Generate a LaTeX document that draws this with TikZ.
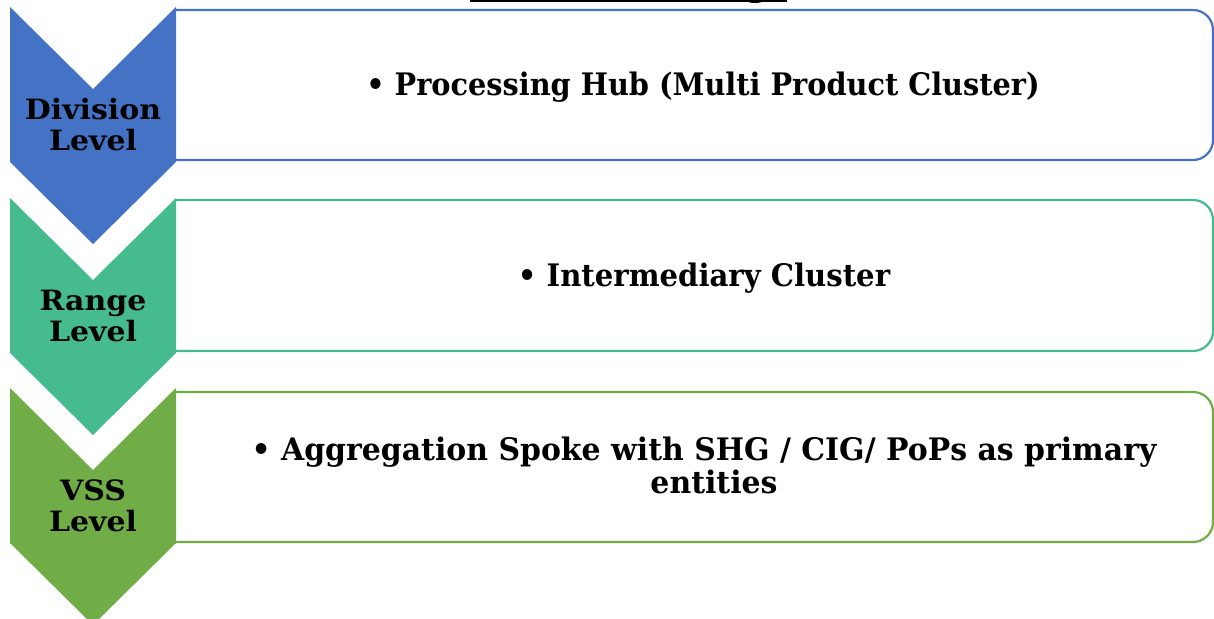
\documentclass[tikz,border=0pt]{standalone}
\usepackage{fontspec}
\setmainfont{DejaVu Serif}
\definecolor{cblue}{RGB}{68,114,196}
\definecolor{cteal}{RGB}{70,188,142}
\definecolor{cgreen}{RGB}{112,173,71}
\tikzset{
  chevron/.style={fill=#1, draw=none},
  listbox/.style={draw=#1, line width=2.2pt, fill=white, rounded corners=20pt},
  levellabel/.style={align=center, inner sep=0pt,
    font=\bfseries\fontsize{28}{31}\selectfont\addfontfeature{FakeStretch=1.07}},
  itemtext/.style={align=center, inner sep=0pt, anchor=base,
    font=\bfseries\fontsize{31}{33}\selectfont\addfontfeature{FakeStretch=#1}},
}
\begin{document}
\begin{tikzpicture}[x=1pt,y=1pt]
\useasboundingbox (0,0) rectangle (1214,-618);
\fill[white] (0,0) rectangle (1214,-618);

% heading underline (heading itself sits above the page)
\draw[line width=2pt] (470,-1.5) -- (787,-1.5);
\fill (755,0) ellipse (9 and 3);

% list boxes
\draw[listbox=cblue]  (176,-10)  -- (1213,-10)  -- (1213,-160) -- (176,-160);
\draw[listbox=cteal]  (176,-200) -- (1213,-200) -- (1213,-351) -- (176,-351);
\draw[listbox=cgreen] (176,-392) -- (1213,-392) -- (1213,-542) -- (176,-542);

% chevrons
\foreach \c/\o in {cblue/0, cteal/191, cgreen/381}{
  \fill[chevron=\c] (10,-7-\o) -- (93,-89-\o) -- (176,-7-\o) -- (176,-162-\o)
    -- (93,-244-\o) -- (10,-162-\o) -- cycle;
}

% level labels
\node[levellabel] (div) at (93,-124.5) {Division\\Level};
\node[levellabel] (rng) at (93,-315.5) {Range\\Level};
\node[levellabel] (vss) at (93,-506) {VSS\\Level};

% item texts (base anchor = baseline of the last line)
\node[itemtext=0.928] (hub) at (703,-95) {• Processing Hub (Multi Product Cluster)};
\node[itemtext=0.94] (mid) at (704,-286) {• Intermediary Cluster};
\node[itemtext=0.965] (spk) at (704,-493) {• Aggregation Spoke with SHG / CIG/ PoPs as primary\\\hspace*{20pt}entities};
\end{tikzpicture}
\end{document}
